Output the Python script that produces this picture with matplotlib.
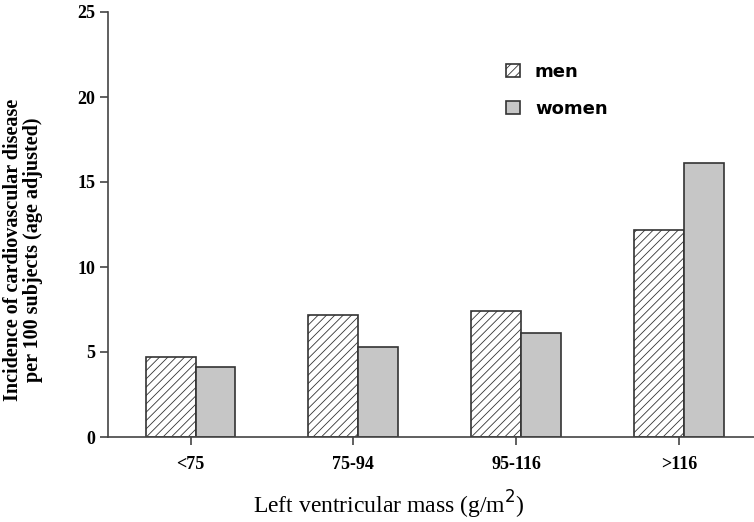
import numpy as np
import matplotlib
matplotlib.use('Agg')
import matplotlib.pyplot as plt
from matplotlib.patches import Patch

# values
categories = ['<75', '75-94', '95-116', '>116']
men = [4.7, 7.2, 7.4, 12.2]
women = [4.1, 5.3, 6.1, 16.1]
yticks = [0, 5, 10, 15, 20, 25]

plt.rcParams['hatch.color'] = '#7a7a7a'
plt.rcParams['hatch.linewidth'] = 0.6

fig = plt.figure(figsize=(7.54, 5.22), dpi=100)
ax = fig.add_axes([108 / 754, 85 / 522, 646 / 754, 425 / 522])

x = np.arange(len(categories))
ax.bar(x - 0.276, men, width=0.307, align='edge', color='white',
       edgecolor='#333333', linewidth=1.2, hatch='////', label='men')
ax.bar(x + 0.031, women, width=0.243, align='edge', color='#c6c6c6',
       edgecolor='#333333', linewidth=1.2, label='women')

ax.set_xlim(-0.507, 3.46)
ax.set_ylim(0, 25)

for s in ['top', 'right']:
    ax.spines[s].set_visible(False)
for s in ['left', 'bottom']:
    ax.spines[s].set_color('#444444')
    ax.spines[s].set_linewidth(1.2)

ax.set_yticks(yticks)
ax.set_yticklabels([str(t) for t in yticks])
ax.set_xticks(x)
ax.set_xticklabels(categories)
for lab in ax.get_xticklabels() + ax.get_yticklabels():
    lab.set_family('Liberation Serif')
    lab.set_weight('bold')
    lab.set_fontsize(13)
ax.tick_params(axis='both', direction='out', length=6, width=1.2, color='#444444', pad=3)
ax.tick_params(axis='x', pad=8)

ax.set_ylabel('Incidence of cardiovascular disease\nper 100 subjects (age adjusted)',
              family='Liberation Serif', weight='bold', size=14.5, linespacing=1.0)
ax.yaxis.set_label_coords(-0.1, 0.44)

ax.set_xlabel('Left ventricular mass (g/m$^{2}$)', family='Liberation Serif', size=17)
ax.xaxis.set_label_coords(0.435, -0.122)

handles = [Patch(facecolor='white', edgecolor='#333333', hatch='////', linewidth=1.2, label='men'),
           Patch(facecolor='#c6c6c6', edgecolor='#333333', linewidth=1.2, label='women')]
ax.legend(handles=handles, loc='upper left', bbox_to_anchor=(0.591, 0.918), frameon=False,
          handlelength=0.75, handleheight=0.75, handletextpad=0.85, labelspacing=1.05,
          prop=dict(family='DejaVu Sans', weight='bold', size=13))

fig.savefig('out.png', dpi=100)
